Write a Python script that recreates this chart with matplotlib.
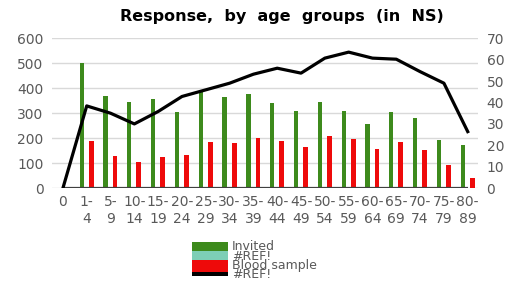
import numpy as np
import matplotlib
matplotlib.use('Agg')
import matplotlib.pyplot as plt
from matplotlib.patches import Rectangle

# age groups (first one is age 0, no bars)
categories = ['0', '1-\n4', '5-\n9', '10-\n14', '15-\n19', '20-\n24', '25-\n29',
              '30-\n34', '35-\n39', '40-\n44', '45-\n49', '50-\n54', '55-\n59',
              '60-\n64', '65-\n69', '70-\n74', '75-\n79', '80-\n89']
invited = [0, 500, 370, 345, 355, 305, 390, 365, 375, 340, 307, 345, 307,
           257, 304, 279, 191, 171]
blood_sample = [0, 190, 128, 104, 125, 133, 184, 181, 200, 189, 165, 208, 196,
                156, 183, 152, 91, 41]
response_pct = [0, 38.4, 35, 30, 35.8, 42.8, 45.9, 49, 53.2, 56, 53.7, 60.7,
                63.5, 60.7, 60.2, 54.4, 49, 26.4]

GREEN = '#3d8a1c'
RED = '#ee0a0a'
TURQ = '#7dcfb6'
GRAY = '#595959'


def main():
    fig = plt.figure(figsize=(5.12, 2.83), dpi=100)
    ax = fig.add_axes([0.101, 0.335, 0.833, 0.53])
    ax2 = ax.twinx()

    x = np.arange(len(categories))
    inv = np.array(invited, dtype=float)
    bld = np.array(blood_sample, dtype=float)
    ax.bar(x[1:] - 0.21, inv[1:], width=0.18, color=GREEN, zorder=3)
    ax.bar(x[1:] + 0.19, bld[1:], width=0.2, color=RED, zorder=3)
    ax.hlines(0, 0, len(categories) - 1, color='#404040', lw=1.6, zorder=4)

    ax.set_ylim(0, 600)
    ax.set_yticks(np.arange(0, 601, 100))
    ax.set_xlim(-0.47, 17.44)
    ax.set_xticks(x)
    ax.set_xticklabels(categories, linespacing=1.25)
    ax.grid(axis='y', color='#d9d9d9', lw=1, zorder=0)
    ax.set_axisbelow(True)
    ax.tick_params(axis='both', length=0, labelsize=10, labelcolor=GRAY)
    ax.tick_params(axis='x', pad=5)
    ax.tick_params(axis='y', pad=6)
    for s in ax.spines.values():
        s.set_visible(False)

    ax2.plot(x, response_pct, color='black', lw=2.3, zorder=5)
    ax2.set_ylim(0, 70)
    ax2.set_yticks(np.arange(0, 71, 10))
    ax2.tick_params(axis='y', length=0, labelsize=10, labelcolor=GRAY, pad=6)
    for s in ax2.spines.values():
        s.set_visible(False)

    fig.text(0.55, 0.94, 'Response,  by  age  groups  (in  NS)', ha='center',
             va='center', fontsize=11.5, fontweight='bold')

    # overlapping legend as in the original
    W, H = 512, 283
    entries = [(GREEN, 242.3, 250.7, 'Invited', 247),
               (TURQ, 250.7, 260, '#REF!', 256),
               (RED, 260, 271.5, 'Blood sample', 265),
               ('black', 272.3, 275.7, '#REF!', 274)]
    for col, y0, y1, lab, ty in entries:
        fig.add_artist(Rectangle((192 / W, 1 - y1 / H), 36 / W, (y1 - y0) / H,
                                 transform=fig.transFigure, color=col, lw=0))
    for col, y0, y1, lab, ty in entries:
        fig.text(232 / W, 1 - ty / H, lab, ha='left', va='center',
                 fontsize=9, color=GRAY)

    fig.savefig('out.png', dpi=100, facecolor='white')


if __name__ == '__main__':
    main()
